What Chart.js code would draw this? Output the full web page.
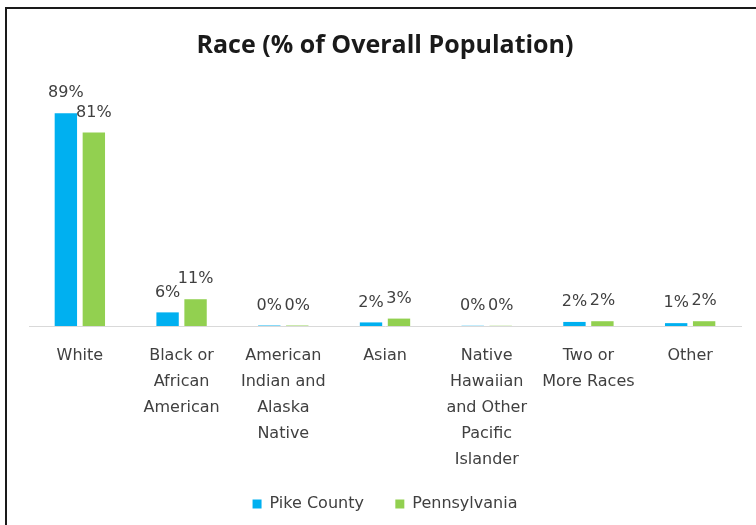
<!DOCTYPE html>
<html>
<head>
<meta charset="utf-8">
<script src="https://cdn.jsdelivr.net/npm/chart.js@4/dist/chart.umd.min.js"></script>
<style>
  html, body { margin: 0; padding: 0; background: #ffffff; overflow: hidden; }
  #wrap { position: relative; width: 756px; height: 525px; overflow: hidden; }
  #c { position: absolute; left: 0; top: 0; }
  #frame { position: absolute; left: 5px; top: 7px; width: 800px; height: 600px;
           border-top: 2px solid #1a1a1a; border-left: 2px solid #1a1a1a; pointer-events: none; }
</style>
</head>
<body>
<div id="wrap">
  <canvas id="c" width="756" height="525"></canvas>
  <div id="frame"></div>
</div>
<script>
const categories = [
  ["White"],
  ["Black or", "African", "American"],
  ["American", "Indian and", "Alaska", "Native"],
  ["Asian"],
  ["Native", "Hawaiian", "and Other", "Pacific", "Islander"],
  ["Two or", "More Races"],
  ["Other"]
];
const pikeCounty   = [89, 5.7, 0.2, 1.5, 0.1, 1.7, 1.2];
const pennsylvania = [81, 11.2, 0.2, 3.1, 0.1, 2.0, 2.0];
const seriesNames  = ["Pike County", "Pennsylvania"];
const chartTitle   = "Race (% of Overall Population)";

const TEXT = "#404040";

const valueLabels = {
  id: "valueLabels",
  afterDatasetsDraw(chart) {
    const ctx = chart.ctx;
    ctx.save();
    ctx.font = "16px 'DejaVu Sans'";
    ctx.fillStyle = TEXT;
    ctx.textAlign = "center";
    ctx.textBaseline = "middle";
    chart.data.datasets.forEach((ds, i) => {
      const meta = chart.getDatasetMeta(i);
      meta.data.forEach((bar, j) => {
        ctx.fillText(Math.round(ds.data[j]) + "%", bar.x, bar.y - 20);
      });
    });
    ctx.restore();
  }
};

new Chart(document.getElementById("c"), {
  type: "bar",
  data: {
    labels: categories,
    datasets: [
      { label: seriesNames[0], data: pikeCounty, backgroundColor: "#00B0F0",
        categoryPercentage: 0.55, barPercentage: 0.8 },
      { label: seriesNames[1], data: pennsylvania, backgroundColor: "#92D050",
        categoryPercentage: 0.55, barPercentage: 0.8 }
    ]
  },
  options: {
    responsive: false,
    animation: false,
    layout: { padding: { top: 0, left: 29, right: 15, bottom: 3 } },
    plugins: {
      title: {
        display: true,
        text: chartTitle,
        color: "#1a1a1a",
        font: { family: "'Open Sans'", size: 25, weight: "bold", lineHeight: 1.2 },
        padding: { top: 31, bottom: 26 }
      },
      legend: {
        position: "bottom",
        labels: {
          color: TEXT,
          font: { family: "'DejaVu Sans'", size: 16 },
          boxWidth: 9,
          boxHeight: 9,
          padding: 6,
          generateLabels(chart) {
            const items = Chart.defaults.plugins.legend.labels.generateLabels(chart);
            if (items.length) items[0].text = items[0].text + "     ";
            return items;
          }
        }
      },
      tooltip: { enabled: false }
    },
    scales: {
      x: {
        grid: { display: false, drawTicks: false },
        border: { display: true, color: "#d9d9d9", width: 1 },
        ticks: {
          color: TEXT,
          font: { family: "'DejaVu Sans'", size: 16, lineHeight: 1.625 },
          padding: 17,
          maxRotation: 0,
          autoSkip: false
        }
      },
      y: {
        display: false,
        min: 0,
        max: 100
      }
    }
  },
  plugins: [valueLabels]
});
</script>
</body>
</html>
